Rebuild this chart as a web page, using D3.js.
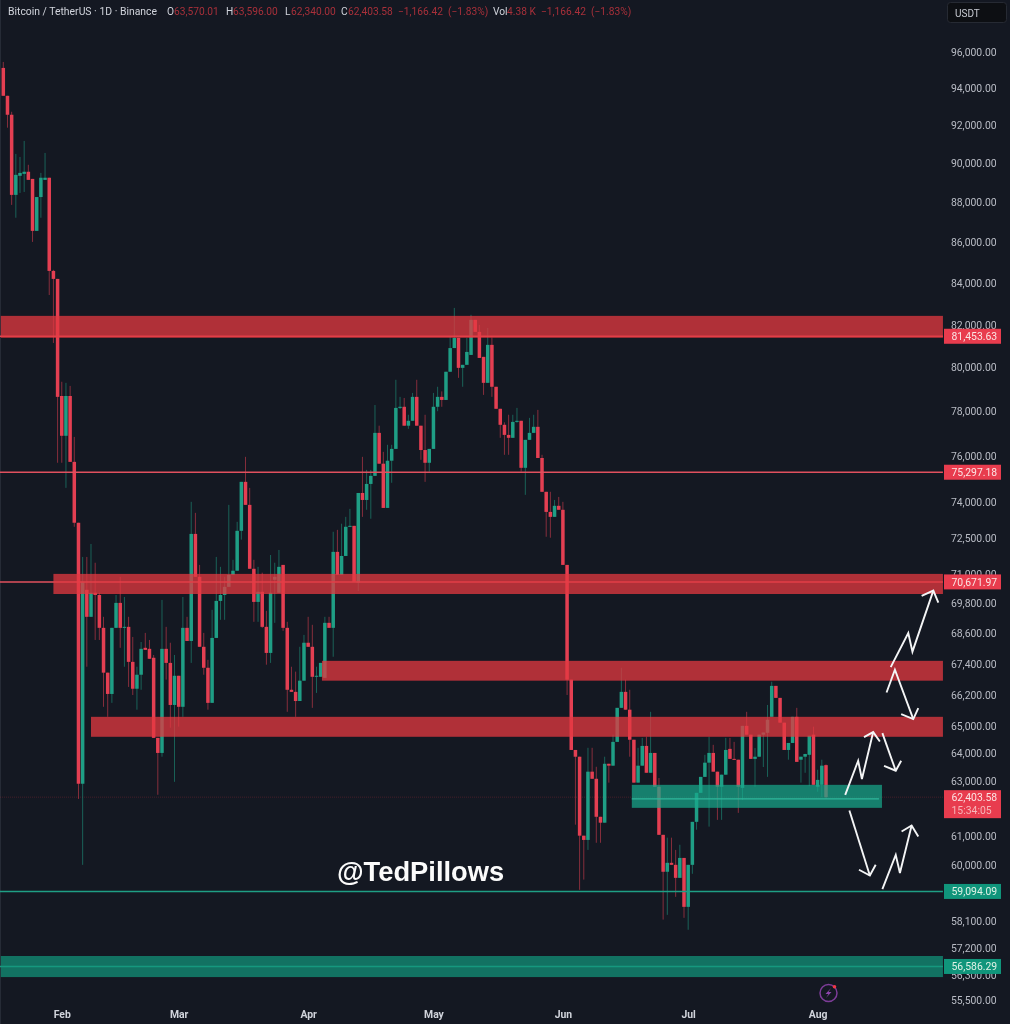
<!DOCTYPE html>
<html>
<head>
<meta charset="utf-8">
<script src="https://cdn.jsdelivr.net/npm/d3@7"></script>
<style>
  html, body { margin: 0; padding: 0; background: #141822; }
  svg { display: block; filter: blur(0.4px); }
  text { font-family: Roboto, "Open Sans", sans-serif; }
</style>
</head>
<body>
<svg id="chart" width="1010" height="1024"></svg>
<script>
// BTC/USDT daily candles, first candle is day 0 (18 Jan)
const opens = [
  95120,93600,92580,88390,89370,89470,89580,89210,86570,88280,
  89160,89270,84590,84200,78690,76900,78690,75750,73130,62890,
  70350,69260,70230,70140,68820,67060,66240,68820,69820,68820,
  68860,67480,66440,66980,68030,67990,67640,64580,64020,67990,
  67440,65820,66940,65750,68820,68300,72660,70880,68070,67250,
  65900,68420,69900,70140,70470,70960,71130,72790,74880,73890,
  71210,69860,70270,68860,67830,70760,70230,71370,68820,66400,
  66320,65970,66750,68230,68070,66900,66900,66860,69020,68820,
  71910,70960,71740,72960,73000,70640,74400,74100,74790,75140,
  77030,75670,73760,75800,76320,78150,78200,77350,77570,78650,
  77350,76270,75710,76320,78200,78650,78510,79800,80900,81380,
  79980,80120,80580,82230,81660,80490,79290,81050,79110,78110,
  77390,76940,76810,77520,77570,75490,76720,77030,77300,75920,
  74450,73590,73380,73850,73680,71370,66790,64130,63880,61030,
  60880,63330,63070,61700,61490,63620,63550,64430,65710,66320,
  65640,64510,62930,63550,64280,63290,64020,62780,61060,59770,
  60080,60010,59560,60250,58570,60010,61520,62560,63140,63660,
  64020,63330,62780,63220,64170,63800,63770,62740,65030,64700,
  63800,63880,64700,64770,65370,66550,66090,65150,64130,64390,
  65370,63770,63880,63950,64700,62780,62850,63570.01
]
const highs = [
  95450,93600,92740,90510,90350,91190,89940,89210,88280,89520,
  90560,89270,84640,84200,79340,79290,79150,76850,73130,71700,
  71700,72240,71460,70230,69260,67060,68820,70140,70880,70060,
  69260,68460,67290,68260,68620,68340,67750,64580,69940,68860,
  68230,67750,66940,70060,69260,74020,73550,71370,68620,67560,
  69540,71700,71290,70880,73890,71580,73170,74880,75970,74620,
  71580,71290,71050,69500,71780,71460,71990,71370,69060,67290,
  67100,68070,68540,69260,68940,67290,67440,69260,69260,72750,
  72830,73090,73380,73720,73000,74400,75970,75400,75400,78280,
  77350,76190,76500,76500,79430,78650,78600,77840,78830,79430,
  77350,77840,76320,78830,79110,78900,79800,81430,82800,81380,
  80120,81380,82470,82230,81990,80490,81850,81400,79110,78110,
  77500,77840,77840,78150,77570,76720,77700,77840,78060,76060,
  74450,74450,74100,74230,74020,71370,66790,64130,63880,61030,
  64210,64210,63510,61700,63880,63620,64700,65710,67250,66790,
  66400,64510,64210,64580,64620,65560,64020,63100,61060,60960,
  60960,60530,60710,60250,60010,61520,62560,63140,63950,64620,
  64320,63330,63220,64580,64580,64430,63770,65030,65560,64700,
  64200,64700,64780,65820,66710,66550,66090,65150,64390,65370,
  65710,63880,63990,64660,65000,63400,63770,63596
]
const lows = [
  93600,91890,87880,87230,88490,88540,89160,86020,86570,87230,
  89160,83420,81140,75710,75710,74620,75750,72960,62340,60010,
  67290,69260,68340,68340,65750,65370,65900,68820,68030,67290,
  66510,66200,65640,66400,67950,67600,64580,62490,63880,66790,
  64960,62960,65000,65370,68300,67440,70880,68070,66980,65640,
  65900,68420,69140,69140,70470,70960,71130,72420,73890,71210,
  69060,69060,68820,67370,67440,69020,70230,68700,65560,66320,
  65370,65970,66750,68070,65710,66280,66900,66860,68820,67680,
  70960,70960,71740,72960,70680,70300,73380,73680,73300,75140,
  75670,73760,73760,74840,76320,78100,77350,77210,77570,77350,
  75840,74880,75320,76320,78000,78200,78510,79800,80900,79520,
  79110,80120,80580,81660,80440,78740,79290,78650,78100,76810,
  76060,76060,76810,77480,75320,74320,76720,77030,75920,74450,
  72540,72500,73380,73680,71370,66200,64130,61420,59150,59500,
  60530,63070,60780,60780,61490,62930,63550,64430,65710,65640,
  63880,62930,62930,63550,63290,63290,62780,61060,58140,58300,
  60010,58910,59560,58200,57800,59700,61240,62560,63140,61350,
  63330,61590,61590,63220,63800,63770,61840,62300,64700,63800,
  62780,63880,63500,63140,65370,66090,65150,64130,63770,64390,
  63690,62930,63290,62800,62850,62600,62400,62340
]
const closes = [
  93600,92580,88390,89420,89520,89580,89160,86570,88280,89270,
  89270,84590,84200,78650,76900,78690,75750,73130,62890,70680,
  69260,70230,70140,68820,67060,66240,68820,69820,68820,68860,
  67480,66440,66980,67990,67950,67600,64580,64020,67990,67440,
  65820,66940,65750,68820,68300,72660,70880,68070,67250,65900,
  68420,69900,70140,70470,70960,71130,72790,74880,73890,71210,
  69860,70270,68860,67830,70230,70880,71290,68820,66400,66320,
  65970,66750,68230,68070,66900,66940,67440,69020,68820,71910,
  70960,71740,72960,73000,70680,74400,74100,74790,75140,77030,
  75670,73760,75800,76320,78150,78200,77350,77570,78650,77350,
  76270,75710,76320,78200,78650,78510,79800,80900,81380,79980,
  80120,80720,82230,81660,80440,79290,81050,79110,78110,77390,
  76940,76810,77520,77570,75490,76720,77030,77300,75920,74450,
  73590,73380,73850,73680,71370,66790,64130,63880,61030,60880,
  63330,63070,61700,61490,63620,63550,64430,65710,66320,65640,
  64510,62930,63550,64280,63290,64020,62780,61060,59770,60080,
  60010,59560,60250,58570,60010,61520,62560,63140,63660,64020,
  63330,62780,63220,64130,63800,63770,62780,65030,64700,63800,
  63880,64700,64780,65260,66550,66090,65150,64130,64390,65370,
  63690,63880,63980,64660,62850,63030,63550,62403.58
]

// axis ticks
const priceTicks = [96000,94000,92000,90000,88000,86000,84000,82000,80000,78000,76000,74000,72500,71000,
  69800,68600,67400,66200,65000,64000,63000,61000,60000,58100,57200,56300,55500]
const monthDays = [14,42,73,103,134,164,195]
const monthNames = ['Feb','Mar','Apr','May','Jun','Jul','Aug']

// marked zones: price top, price bottom, first day, last day
const redZoneTops = [82420,71000,67520,65370]
const redZoneBottoms = [81380,70180,66750,64620]
const redZoneStarts = [-0.6,12,76.3,21]
const redZoneEnds = [225,225,225,225]
const greenZoneTops = [62850,56930]
const greenZoneBottoms = [62020,56240]
const greenZoneStarts = [150.5,-0.6]
const greenZoneEnds = [210.4,225]

// price levels with a tag on the axis
const redLevels = [81453.63,75297.18,70671.97]
const greenLevels = [59094.09,56586.29]
const lastPrice = 62403.58
const countdown = '15:34:05'

// hand drawn arrows as [day, price]
const arrowLines = [
  [[212.5,67277],[216.7,68613],[217.7,67880],[222.7,70319]],
  [[211.5,66294],[213.5,67172],[217.9,65285]],
  [[201.6,62487],[204.7,63730],[205.6,63062],[208.3,64796]],
  [[210.5,64759],[213.7,63364]],
  [[202.6,61924],[207.5,59642]],
  [[210.5,59173],[213.7,60356],[214.7,59725],[217.5,61392]]
]
const arrowHeads = [
  [[219.9,70102],[222.7,70319],[223.9,69831]],
  [[215,65473],[217.9,65285],[219.1,65699]],
  [[206.1,64609],[208.3,64796],[209.9,64443]],
  [[210.9,63547],[213.7,63364],[215,63730]],
  [[204.9,59839],[207.5,59642],[208.9,60011]],
  [[215.1,61179],[217.5,61392],[219.1,61002]]
]

const upColor = '#1f9e85'
const downColor = '#e43f52'
const axisText = '#b9bcc5'

const svg = d3.select('#chart')
const x = d3.scaleLinear().domain([0, 197]).range([3.3, 826])
const y = d3.scaleLog().domain([96000, 55500]).range([52, 1000])
const right = x(225)

// background
svg.append('rect').attr('width', 1010).attr('height', 1024).attr('fill', '#141822')
svg.append('line').attr('x1', 0.5).attr('x2', 0.5).attr('y1', 0).attr('y2', 1024).attr('stroke', '#262b36')

// right price axis
let yAxis = d3.axisRight(y).tickValues(priceTicks).tickFormat(d3.format(',.2f')).tickSize(0).tickPadding(8)
let yG = svg.append('g').attr('transform', 'translate(' + right + ',0)').call(yAxis)
yG.select('.domain').remove()
yG.selectAll('text').attr('fill', axisText).attr('font-size', 10.4)

// month axis
let xAxis = d3.axisBottom(x).tickValues(monthDays).tickFormat((d, i) => monthNames[i]).tickSize(0).tickPadding(0)
let xG = svg.append('g').attr('transform', 'translate(0,1011)').call(xAxis)
xG.select('.domain').remove()
xG.selectAll('text').attr('fill', '#d1d4dc').attr('font-size', 10.4).attr('font-weight', 700)

// last price dotted line
svg.append('line')
  .attr('x1', 0).attr('x2', right)
  .attr('y1', y(lastPrice)).attr('y2', y(lastPrice))
  .attr('stroke', 'rgba(242,54,69,0.22)')
  .attr('stroke-dasharray', '1 1')

// candles
let days = d3.range(opens.length)
let candles = svg.append('g')
candles.selectAll('line.wick')
  .data(days)
  .enter()
  .append('line')
  .attr('class', 'wick')
  .attr('x1', d => x(d)).attr('x2', d => x(d))
  .attr('y1', d => y(highs[d])).attr('y2', d => y(lows[d]))
  .attr('stroke', d => closes[d] >= opens[d] ? upColor : downColor)
  .attr('stroke-opacity', 0.55)
  .attr('stroke-width', 1)
candles.selectAll('rect.body')
  .data(days)
  .enter()
  .append('rect')
  .attr('class', 'body')
  .attr('x', d => x(d) - 1.75)
  .attr('width', 3.5)
  .attr('y', d => y(Math.max(opens[d], closes[d])))
  .attr('height', d => Math.max(1, y(Math.min(opens[d], closes[d])) - y(Math.max(opens[d], closes[d]))))
  .attr('fill', d => closes[d] >= opens[d] ? upColor : downColor)

// level lines
svg.selectAll('line.red-level')
  .data(redLevels)
  .enter()
  .append('line')
  .attr('x1', 0).attr('x2', right)
  .attr('y1', d => y(d)).attr('y2', d => y(d))
  .attr('stroke', '#e0505e')
  .attr('stroke-width', 1.5)
svg.selectAll('line.green-level')
  .data(greenLevels)
  .enter()
  .append('line')
  .attr('x1', 0).attr('x2', right)
  .attr('y1', d => y(d)).attr('y2', d => y(d))
  .attr('stroke', '#1f9e85')
  .attr('stroke-width', 1.5)

// zones go over the candles so the candles shine through
svg.selectAll('rect.red-zone')
  .data(d3.range(redZoneTops.length))
  .enter()
  .append('rect')
  .attr('x', i => x(redZoneStarts[i]))
  .attr('width', i => x(redZoneEnds[i]) - x(redZoneStarts[i]))
  .attr('y', i => y(redZoneTops[i]))
  .attr('height', i => y(redZoneBottoms[i]) - y(redZoneTops[i]))
  .attr('fill', 'rgba(228,56,64,0.75)')
svg.selectAll('rect.green-zone')
  .data(d3.range(greenZoneTops.length))
  .enter()
  .append('rect')
  .attr('x', i => x(greenZoneStarts[i]))
  .attr('width', i => x(greenZoneEnds[i]) - x(greenZoneStarts[i]))
  .attr('y', i => y(greenZoneTops[i]))
  .attr('height', i => y(greenZoneBottoms[i]) - y(greenZoneTops[i]))
  .attr('fill', i => i === 0 ? 'rgba(23,168,138,0.72)' : 'rgba(18,150,124,0.72)')

// line inside the small green zone
svg.append('line')
  .attr('x1', x(greenZoneStarts[0])).attr('x2', x(greenZoneEnds[0]) - 3)
  .attr('y1', y(lastPrice) + 1.8).attr('y2', y(lastPrice) + 1.8)
  .attr('stroke', '#2fb79c').attr('stroke-width', 1.2)

// arrows
let arrowPath = d3.line().x(d => x(d[0])).y(d => y(d[1]))
svg.selectAll('path.arrow')
  .data(arrowLines.concat(arrowHeads))
  .enter()
  .append('path')
  .attr('d', arrowPath)
  .attr('fill', 'none')
  .attr('stroke', '#f4f5f6')
  .attr('stroke-width', 1.9)

// price tags
let drawTag = (price, fill, ink) => {
  let c = y(price)
  svg.append('rect').attr('x', 944).attr('y', c - 7.5).attr('width', 57).attr('height', 15).attr('fill', fill)
  svg.append('text').attr('x', 951.5).attr('y', c + 3.6).attr('font-size', 10.4).attr('fill', ink)
    .text(d3.format(',.2f')(price))
}
redLevels.forEach(p => drawTag(p, '#e83c4e', '#fbe4e4'))
greenLevels.forEach(p => drawTag(p, '#10957b', '#dff2e6'))

// last price tag has two rows
svg.append('rect').attr('x', 944).attr('y', y(lastPrice) - 7).attr('width', 57).attr('height', 28).attr('fill', '#e83c4e')
svg.append('text').attr('x', 951.5).attr('y', y(lastPrice) + 4).attr('font-size', 10.4).attr('fill', '#fbe4e4')
  .text(d3.format(',.2f')(lastPrice))
svg.append('text').attr('x', 951.5).attr('y', y(lastPrice) + 16.5).attr('font-size', 10.4).attr('fill', '#f7b5b9')
  .text(countdown)

// watermark
svg.append('text').attr('x', 337).attr('y', 881)
  .style('font-family', '"Liberation Sans", Arial, sans-serif')
  .attr('font-size', 27.3).attr('font-weight', 700).attr('fill', '#fbfbfb')
  .text('@TedPillows')

// header row
let headerParts = [
  [8, 'Bitcoin / TetherUS · 1D · Binance', '#d1d4dc'],
  [167, 'O', '#d1d4dc'], [174, '63,570.01', '#a8303a'],
  [226, 'H', '#d1d4dc'], [233, '63,596.00', '#a8303a'],
  [285, 'L', '#d1d4dc'], [291, '62,340.00', '#a8303a'],
  [341, 'C', '#d1d4dc'], [348, '62,403.58', '#a8303a'],
  [398, '−1,166.42', '#a8303a'], [448, '(−1.83%)', '#a8303a'],
  [493, 'Vol', '#d1d4dc'], [507, '4.38 K', '#a8303a'],
  [541, '−1,166.42', '#a8303a'], [591, '(−1.83%)', '#a8303a']
]
svg.selectAll('text.head')
  .data(headerParts)
  .enter()
  .append('text')
  .attr('x', d => d[0]).attr('y', 15)
  .attr('font-size', d => d[1].length > 20 ? 10.4 : 10.2)
  .attr('fill', d => d[2])
  .text(d => d[1])

// currency box
svg.append('rect').attr('x', 947.5).attr('y', 2.5).attr('width', 59).attr('height', 20).attr('rx', 3)
  .attr('fill', '#0d0f13').attr('stroke', '#262a33')
svg.append('text').attr('x', 955).attr('y', 16.5).attr('font-size', 10).attr('fill', '#c8cbd3').text('USDT')

// lightning badge
let badge = svg.append('g').attr('transform', 'translate(828.5,993)')
badge.append('circle').attr('r', 8.5).attr('fill', 'none').attr('stroke', '#7d3c98').attr('stroke-width', 1.5)
badge.append('path').attr('d', 'M2.5,-5 L-3,1 L0,1 L-2.5,5 L3,-1 L0,-1 Z').attr('fill', '#8e44ad')
badge.append('circle').attr('cx', 6).attr('cy', -6.3).attr('r', 1.8).attr('fill', '#f23645')
</script>
</body>
</html>
